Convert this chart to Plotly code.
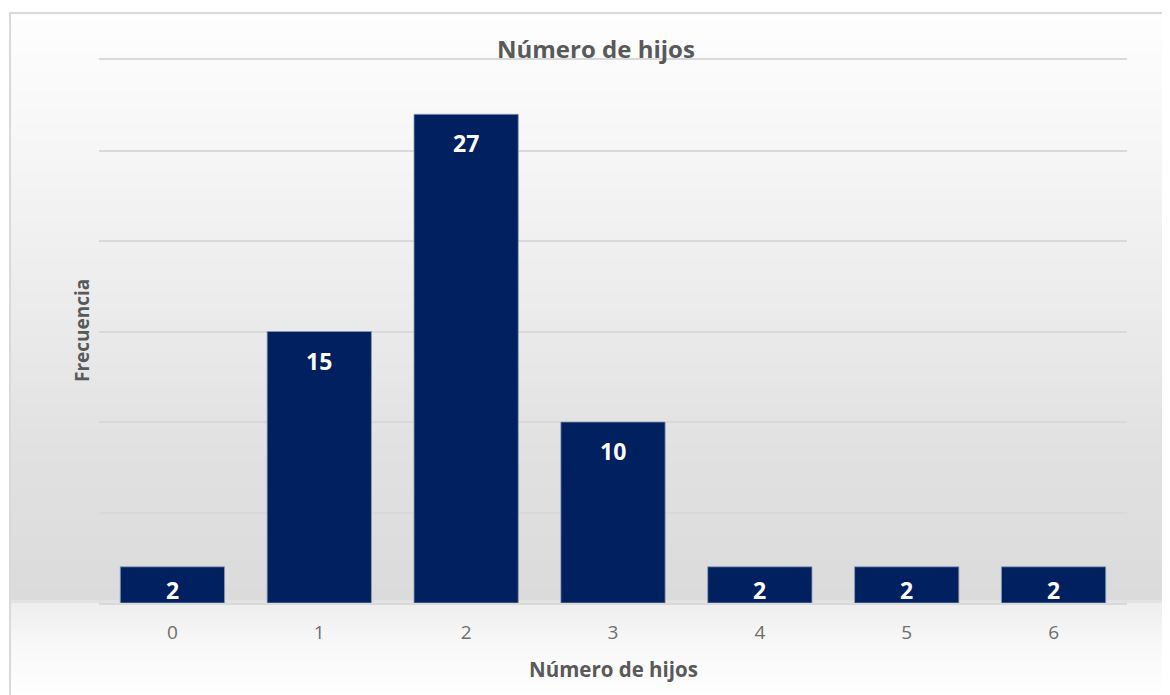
import plotly.graph_objects as go

# Dades del gràfic
categories = ["0", "1", "2", "3", "4", "5", "6"]
frecuencia = [2, 15, 27, 10, 2, 2, 2]
titol = "Número de hijos"
titol_x = "Número de hijos"
titol_y = "Frecuencia"

OFF = 8                           # marge del <body> de la pàgina
W, H = 1170 - OFF, 695 - OFF
L, R, T, B = 99, 1127, 60, 603    # àrea del gràfic en píxels de pantalla
YMAX = 30


def px_x(p):
    return (p - L) / (R - L)


def px_y(p):
    return (B - p) / (B - T)


# Degradat de fons (blanc a dalt, gris a la base)
punts_gris = [(0, 255), (12, 254), (150, 246), (330, 234), (450, 225),
              (600, 219), (604, 238), (640, 247), (695, 255)]


def gris(y):
    for (y0, g0), (y1, g1) in zip(punts_gris[:-1], punts_gris[1:]):
        if y0 <= y <= y1:
            return g0 + (g1 - g0) * (y - y0) / (y1 - y0)
    return 255


shapes = []
pas = 3
for y in range(12, 700, pas):
    g = int(round(gris(y + pas / 2)))
    shapes.append(dict(type="rect", xref="paper", yref="paper", layer="below",
                       x0=px_x(9), x1=px_x(1180), y0=px_y(y + pas), y1=px_y(y),
                       line=dict(width=0), fillcolor=f"rgb({g},{g},{g})"))
# Vora del gràfic
shapes.append(dict(type="rect", xref="paper", yref="paper", layer="above",
                   x0=px_x(10), x1=px_x(1185), y0=px_y(710), y1=px_y(13),
                   line=dict(color="#d9d9d9", width=2), fillcolor="rgba(0,0,0,0)"))

fig = go.Figure()
fig.add_trace(go.Bar(
    x=categories, y=frecuencia,
    marker=dict(color="#002060", line=dict(color="#8a9ab5", width=0.8)),
    hoverinfo="x+y",
))

# Etiquetes de dades dins de les barres
px_unitat = (B - T) / YMAX
anotacions = []
for c, v in zip(categories, frecuencia):
    desp = min(29, v * px_unitat - 13)
    anotacions.append(dict(x=c, y=v, xref="x", yref="y", text=f"<b>{v}</b>",
                           showarrow=False, yanchor="middle", yshift=-desp,
                           font=dict(size=23, color="white", family="Open Sans")))

anotacions += [
    dict(text=f"<b>{titol}</b>", xref="paper", yref="paper", x=px_x(596), y=px_y(49),
         showarrow=False, yanchor="middle", xanchor="center",
         font=dict(size=24, color="#595959", family="Open Sans")),
    dict(text=f"<b>{titol_x}</b>", xref="paper", yref="paper", x=px_x(613), y=px_y(669),
         showarrow=False, yanchor="middle", xanchor="center",
         font=dict(size=20.5, color="#595959", family="Open Sans")),
    dict(text=f"<b>{titol_y}</b>", xref="paper", yref="paper", x=px_x(82), y=px_y(331),
         showarrow=False, yanchor="middle", xanchor="center", textangle=-90,
         font=dict(size=19, color="#595959", family="Open Sans")),
]

fig.update_layout(
    width=W, height=H,
    margin=dict(l=L - OFF, r=W - (R - OFF), t=T - OFF, b=H - (B - OFF)),
    paper_bgcolor="white",
    plot_bgcolor="rgba(0,0,0,0)",
    bargap=0.29,
    showlegend=False,
    shapes=shapes,
    annotations=anotacions,
    font=dict(family="Open Sans", color="#595959"),
    xaxis=dict(type="category", showgrid=False, showline=True, mirror=True,
               linecolor="#d9d9d9", linewidth=1.5, ticks="", ticklabelstandoff=11,
               tickfont=dict(size=19, color="#6e6e6e")),
    yaxis=dict(range=[0, YMAX], dtick=5, showgrid=True, gridcolor="#d9d9d9",
               gridwidth=1.5, zeroline=False, showticklabels=False, ticks=""),
)

fig.write_html("out.html")
